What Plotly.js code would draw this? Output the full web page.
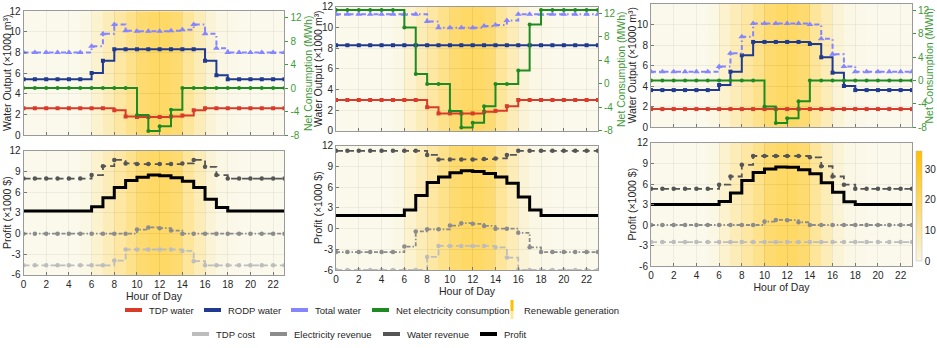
<!DOCTYPE html>
<html>
<head>
<meta charset="utf-8">
<script src="https://cdn.plot.ly/plotly-3.0.1.min.js"></script>
<style>
  html, body { margin: 0; padding: 0; background: #fff; }
  #chart { width: 937px; height: 348px; }
</style>
</head>
<body>
<div id="chart"></div>
<script>
// hours of the day and renewable generation (shading behind every panel)
const hours = [0,1,2,3,4,5,6,7,8,9,10,11,12,13,14,15,16,17,18,19,20,21,22,23];
const hourEdges = [0,1,2,3,4,5,6,7,8,9,10,11,12,13,14,15,16,17,18,19,20,21,22,23,24];
const hourTicks = [0,2,4,6,8,10,12,14,16,18,20,22];
const renewable = [0,0,0,0,0,2,8,14,20,26,33,36,36,33,22,14,6,2,0.5,0,0,0,0,0];

const waterRange = [0, 12];
const waterTicks = [0, 2, 4, 6, 8, 10, 12];
const netRange = [-8, 13.1];
const netTicks = [-8, -4, 0, 4, 8, 12];
const netTickText = ['-8', '-4', '0', '4', '8', '12'];
const profitRange = [-6, 12];
const profitTicks = [-6, -3, 0, 3, 6, 9, 12];
const profitTickText = ['-6', '-3', '0', '3', '6', '9', '12'];

// case A (left)
const tdpWaterA   = [2.6,2.6,2.6,2.6,2.6,2.6,2.6,2.6,2.4,1.8,1.75,1.75,1.75,1.8,1.9,2.4,2.6,2.6,2.6,2.6,2.6,2.6,2.6,2.6];
const rodpWaterA  = [5.4,5.4,5.4,5.4,5.4,5.4,6.0,7.2,8.3,8.3,8.3,8.3,8.3,8.3,8.3,8.3,7.2,5.8,5.4,5.4,5.4,5.4,5.4,5.4];
const totalWaterA = [8.0,8.0,8.0,8.0,8.0,8.0,8.6,9.8,10.7,10.1,10.05,10.05,10.05,10.1,10.2,10.7,9.8,8.4,8.0,8.0,8.0,8.0,8.0,8.0];
const netElecA    = [0,0,0,0,0,0,0,0,0,0,-4.6,-7.3,-6.5,-3.7,0,0,0,0,0,0,0,0,0,0];
const tdpCostA    = [-4.6,-4.6,-4.6,-4.6,-4.6,-4.6,-4.6,-4.6,-3.9,-2.3,-2.3,-2.3,-2.3,-2.3,-2.5,-4.0,-4.6,-4.6,-4.6,-4.6,-4.6,-4.6,-4.6,-4.6];
const elecRevA    = [0,0,0,0,0,0,0,0,0,0,0.6,0.9,0.8,0.45,0,0,0,0,0,0,0,0,0,0];
const waterRevA   = [8.0,8.0,8.0,8.0,8.0,8.0,8.5,9.8,10.7,10.2,10.1,10.1,10.1,10.1,10.2,10.7,9.7,8.5,8.0,8.0,8.0,8.0,8.0,8.0];
const profitA     = [3.3,3.3,3.3,3.3,3.3,3.3,3.9,5.2,6.7,7.7,8.2,8.5,8.4,8.1,7.6,6.7,5.0,3.8,3.3,3.3,3.3,3.3,3.3,3.3];

// case B (middle)
const tdpWaterB   = [3.0,3.0,3.0,3.0,3.0,3.0,3.0,3.0,2.3,1.7,1.7,1.7,1.7,1.85,1.95,2.4,3.0,3.0,3.0,3.0,3.0,3.0,3.0,3.0];
const rodpWaterB  = [8.3,8.3,8.3,8.3,8.3,8.3,8.3,8.3,8.3,8.3,8.3,8.3,8.3,8.3,8.3,8.3,8.3,8.3,8.3,8.3,8.3,8.3,8.3,8.3];
const totalWaterB = [11.3,11.3,11.3,11.3,11.3,11.3,11.3,11.3,10.6,10.0,10.0,10.0,10.0,10.15,10.25,10.7,11.3,11.3,11.3,11.3,11.3,11.3,11.3,11.3];
const netElecB    = [12.6,12.6,12.6,12.6,12.6,12.6,9.6,1.7,0,0,-4.6,-7.4,-6.6,-3.8,0,0,2.3,10.1,12.6,12.6,12.6,12.6,12.6,12.6];
const tdpCostB    = [-6.0,-6.0,-6.0,-6.0,-6.0,-6.0,-6.0,-6.0,-4.1,-2.5,-2.5,-2.5,-2.5,-2.5,-2.7,-4.2,-6.0,-6.0,-6.0,-6.0,-6.0,-6.0,-6.0,-6.0];
const elecRevB    = [-3.4,-3.4,-3.4,-3.4,-3.4,-3.4,-2.6,-0.4,-0.1,-0.1,0.45,0.8,0.7,0.4,0,0,-0.6,-2.7,-3.4,-3.4,-3.4,-3.4,-3.4,-3.4];
const waterRevB   = [11.3,11.3,11.3,11.3,11.3,11.3,11.3,11.3,10.7,10.05,10.05,10.05,10.05,10.1,10.2,10.7,11.3,11.3,11.3,11.3,11.3,11.3,11.3,11.3];
const profitB     = [1.9,1.9,1.9,1.9,1.9,1.9,2.7,4.8,6.7,7.5,8.1,8.4,8.3,8.0,7.5,6.6,4.6,2.7,1.9,1.9,1.9,1.9,1.9,1.9];

// case C (right)
const tdpWaterC   = [1.75,1.75,1.75,1.75,1.75,1.75,1.75,1.75,1.75,1.75,1.75,1.75,1.75,1.75,1.75,1.75,1.75,1.75,1.75,1.75,1.75,1.75,1.75,1.75];
const rodpWaterC  = [3.6,3.6,3.6,3.6,3.6,3.6,4.1,5.4,7.0,8.3,8.3,8.3,8.3,8.3,8.1,6.8,5.3,4.0,3.6,3.6,3.6,3.6,3.6,3.6];
const totalWaterC = [5.4,5.4,5.4,5.4,5.4,5.4,5.9,7.2,8.8,10.1,10.1,10.1,10.1,10.1,10.0,8.6,7.1,5.9,5.4,5.4,5.4,5.4,5.4,5.4];
const netElecC    = [0,0,0,0,0,0,0,0,0,0,-4.5,-7.3,-6.5,-3.6,0,0,0,0,0,0,0,0,0,0];
const tdpCostC    = [-2.5,-2.5,-2.5,-2.5,-2.5,-2.5,-2.5,-2.5,-2.5,-2.5,-2.5,-2.5,-2.5,-2.5,-2.5,-2.5,-2.5,-2.5,-2.5,-2.5,-2.5,-2.5,-2.5,-2.5];
const elecRevC    = [0,0,0,0,0,0,0,0,0,0,0.5,0.75,0.7,0.4,0,0,0,0,0,0,0,0,0,0];
const waterRevC   = [5.3,5.3,5.3,5.3,5.3,5.3,5.9,7.1,8.8,10.1,10.1,10.1,10.1,10.1,9.9,8.6,7.1,5.9,5.3,5.3,5.3,5.3,5.3,5.3];
const profitC     = [3.0,3.0,3.0,3.0,3.0,3.0,3.45,4.7,6.5,7.7,8.2,8.5,8.45,8.1,7.5,6.2,4.8,3.4,3.0,3.0,3.0,3.0,3.0,3.0];

// legend labels
const legendRow1 = ['TDP water', 'RODP water', 'Total water', 'Net electricity consumption'];
const legendRow2 = ['TDP cost', 'Electricity revenue', 'Water revenue', 'Profit'];
const renewLabel = 'Renewable generation';

const FONT = 'Liberation Sans, Arial, sans-serif';
const TEXT = '#262626';
const GREEN_TXT = '#3f9a3a';
const W = 937, H = 348;

const colors = {
  tdp: '#D83B2A', rodp: '#1F3A8F', total: '#8585FF', net: '#1E8B22', renew: '#FFC000',
  tdpCost: '#BDBDBD', elecRev: '#8C8C8C', waterRev: '#555555', profit: '#000000'
};
const shadeScale = [[0, '#F8F5E0'], [1, '#FFC000']];

function stepLine(y, xa, ya, color, width, dash, symbol, size) {
  return {
    type: 'scatter', x: hours, y: y, xaxis: xa, yaxis: ya,
    mode: symbol ? 'lines+markers' : 'lines',
    line: { shape: 'hv', color: color, width: width, dash: dash },
    marker: { symbol: symbol || 'circle', size: size || 4, color: color },
    showlegend: false, hoverinfo: 'skip'
  };
}

function shading(xa, ya, range, withScale) {
  return {
    type: 'heatmap', x: hourEdges, y: range, z: [renewable],
    xaxis: xa, yaxis: ya, zmin: 0, zmax: 36,
    colorscale: shadeScale, opacity: 0.6, showscale: !!withScale,
    hoverinfo: 'skip',
    colorbar: {
      x: 0.9775, xanchor: 'left', y: 0.408, yanchor: 'middle',
      len: 110, lenmode: 'pixels', thickness: 6, xpad: 0, ypad: 0,
      outlinewidth: 0.5, outlinecolor: '#bbb',
      tickvals: [0, 10, 20, 30], ticks: '', tickfont: { size: 10, color: TEXT, family: FONT }
    }
  };
}

const cases = [
  { ax: ['x', 'y', 'y2', 'x2', 'y3'], tdp: tdpWaterA, rodp: rodpWaterA, total: totalWaterA, net: netElecA,
    cost: tdpCostA, elec: elecRevA, water: waterRevA, profit: profitA },
  { ax: ['x3', 'y4', 'y5', 'x4', 'y6'], tdp: tdpWaterB, rodp: rodpWaterB, total: totalWaterB, net: netElecB,
    cost: tdpCostB, elec: elecRevB, water: waterRevB, profit: profitB },
  { ax: ['x5', 'y7', 'y8', 'x6', 'y9'], tdp: tdpWaterC, rodp: rodpWaterC, total: totalWaterC, net: netElecC,
    cost: tdpCostC, elec: elecRevC, water: waterRevC, profit: profitC }
];

let traces = [];
cases.forEach((c, i) => {
  const [xt, yt, yt2, xb, yb] = c.ax;
  traces.push(shading(xt, yt, waterRange, false));
  traces.push(shading(xb, yb, profitRange, i === 2));

  traces.push(stepLine(c.tdp, xt, yt, colors.tdp, 2, 'solid', 'square', 4));
  traces.push(stepLine(c.rodp, xt, yt, colors.rodp, 2, 'solid', 'square', 4));
  traces.push(stepLine(c.total, xt, yt, colors.total, 2, '5px,3px,1.5px,3px', 'triangle-up', 6));
  traces.push(stepLine(c.net, xt, yt2, colors.net, 2, 'solid', 'circle', 4));

  traces.push(stepLine(c.cost, xb, yb, colors.tdpCost, 1.8, '6px,3px', 'circle', 4.5));
  traces.push(stepLine(c.elec, xb, yb, colors.elecRev, 1.8, '4px,2px,1.5px,2px', 'circle', 4.5));
  traces.push(stepLine(c.water, xb, yb, colors.waterRev, 1.8, '7px,4px', 'circle', 4.5));
  traces.push(stepLine(c.profit, xb, yb, colors.profit, 3, 'solid', null));
});

const baseAxis = {
  showline: true, linecolor: '#9a9a9a', linewidth: 1, mirror: true,
  ticks: 'inside', ticklen: 3, tickcolor: '#777',
  showgrid: true, gridcolor: 'rgba(0,0,0,0.13)', gridwidth: 1,
  zeroline: false, automargin: false, fixedrange: true,
  tickfont: { size: 10, color: TEXT, family: FONT }
};

function xAxis(domain, anchor, bottom) {
  return Object.assign({}, baseAxis, {
    domain: domain, anchor: anchor, range: [0, 23], tickvals: hourTicks,
    showticklabels: bottom,
    title: bottom ? { text: 'Hour of Day', font: { size: 10.5, color: TEXT, family: FONT }, standoff: 3 } : { text: '' }
  });
}
function yAxis(domain, anchor, range, vals, labels) {
  return Object.assign({}, baseAxis, {
    domain: domain, anchor: anchor, range: range, tickvals: vals, ticktext: labels, title: { text: '' }
  });
}
function yAxisRight(over, anchor) {
  return {
    overlaying: over, side: 'right', anchor: anchor, range: netRange,
    tickvals: netTicks, ticktext: netTickText,
    showline: false, ticks: 'outside', ticklen: 3, tickcolor: GREEN_TXT,
    showgrid: false, zeroline: false, automargin: false, fixedrange: true,
    tickfont: { size: 10, color: GREEN_TXT, family: FONT }, title: { text: '' }
  };
}

const colA = [0.0251, 0.3036], colB = [0.3586, 0.6382], colC = [0.6948, 0.9733];
const topA = [0.612, 0.968], topB = [0.6236, 0.9799], topC = [0.635, 0.9885];
const botA = [0.2098, 0.5661], botB = [0.2241, 0.5805], botC = [0.2356, 0.5891];

// rotated axis titles (placed as annotations so they sit close to the axes)
function vTitle(text, xPx, dom, color) {
  return {
    text: text, xref: 'paper', yref: 'paper', x: xPx / W, y: (dom[0] + dom[1]) / 2,
    xanchor: 'center', yanchor: 'middle', textangle: -90, showarrow: false,
    font: { size: 10.5, color: color, family: FONT }
  };
}
const annotations = [
  vTitle('Water Output (×1000 m³)', 7, topA, TEXT),
  vTitle('Net Consumption (MWh)', 308, topA, GREEN_TXT),
  vTitle('Profit (×1000 $)', 7, botA, TEXT),
  vTitle('Water Output (×1000 m³)', 318, topB, TEXT),
  vTitle('Net Consumption (MWh)', 621, topB, GREEN_TXT),
  vTitle('Profit (×1000 $)', 318, botB, TEXT),
  vTitle('Water Output (×1000 m³)', 632, topC, TEXT),
  vTitle('Net Consumption (MWh)', 929, topC, GREEN_TXT),
  vTitle('Profit (×1000 $)', 632, botC, TEXT)
];

// legend: two rows below the panels
const shapes = [];
const row1Y = 1 - 310 / H, row2Y = 1 - 334 / H;
const row1Icons = [125, 204, 291, 372];
const row2Icons = [192, 270, 383, 480];
const row1Colors = [colors.tdp, colors.rodp, colors.total, colors.net];
const row2Colors = [colors.tdpCost, colors.elecRev, colors.waterRev, colors.profit];

function legendItem(label, color, xPx, yPaper) {
  shapes.push({
    type: 'line', xref: 'paper', yref: 'paper', x0: xPx / W, x1: (xPx + 17) / W,
    y0: yPaper, y1: yPaper, line: { color: color, width: 4 }
  });
  annotations.push({
    text: label, xref: 'paper', yref: 'paper', x: (xPx + 22) / W, y: yPaper,
    xanchor: 'left', yanchor: 'middle', showarrow: false,
    font: { size: 9.5, color: TEXT, family: FONT }
  });
}
legendRow1.forEach((lbl, i) => legendItem(lbl, row1Colors[i], row1Icons[i], row1Y));
legendRow2.forEach((lbl, i) => legendItem(lbl, row2Colors[i], row2Icons[i], row2Y));
// renewable generation swatch: a thin bar fading downwards
shapes.push({ type: 'line', xref: 'paper', yref: 'paper', x0: 512 / W, x1: 512 / W,
  y0: 1 - 311 / H, y1: 1 - 300 / H, line: { color: '#FFC000', width: 3 } });
shapes.push({ type: 'line', xref: 'paper', yref: 'paper', x0: 512 / W, x1: 512 / W,
  y0: 1 - 319 / H, y1: 1 - 311 / H, line: { color: '#FFE89A', width: 3 } });
annotations.push({
  text: renewLabel, xref: 'paper', yref: 'paper', x: 522 / W, y: row1Y,
  xanchor: 'left', yanchor: 'middle', showarrow: false,
  font: { size: 9.5, color: TEXT, family: FONT }
});

const layout = {
  width: W, height: H,
  margin: { l: 0, r: 0, t: 0, b: 0 },
  paper_bgcolor: '#fff', plot_bgcolor: '#fff',
  font: { family: FONT, color: TEXT },
  showlegend: false,
  xaxis:  xAxis(colA, 'y', false),
  yaxis:  yAxis(topA, 'x', waterRange, waterTicks),
  yaxis2: yAxisRight('y', 'x'),
  xaxis2: xAxis(colA, 'y3', true),
  yaxis3: yAxis(botA, 'x2', profitRange, profitTicks, profitTickText),

  xaxis3: xAxis(colB, 'y4', false),
  yaxis4: yAxis(topB, 'x3', waterRange, waterTicks),
  yaxis5: yAxisRight('y4', 'x3'),
  xaxis4: xAxis(colB, 'y6', true),
  yaxis6: yAxis(botB, 'x4', profitRange, profitTicks, profitTickText),

  xaxis5: xAxis(colC, 'y7', false),
  yaxis7: yAxis(topC, 'x5', waterRange, waterTicks),
  yaxis8: yAxisRight('y7', 'x5'),
  xaxis6: xAxis(colC, 'y9', true),
  yaxis9: yAxis(botC, 'x6', profitRange, profitTicks, profitTickText),

  annotations: annotations,
  shapes: shapes
};

Plotly.newPlot('chart', traces, layout, { displayModeBar: false, staticPlot: true });
</script>
</body>
</html>
